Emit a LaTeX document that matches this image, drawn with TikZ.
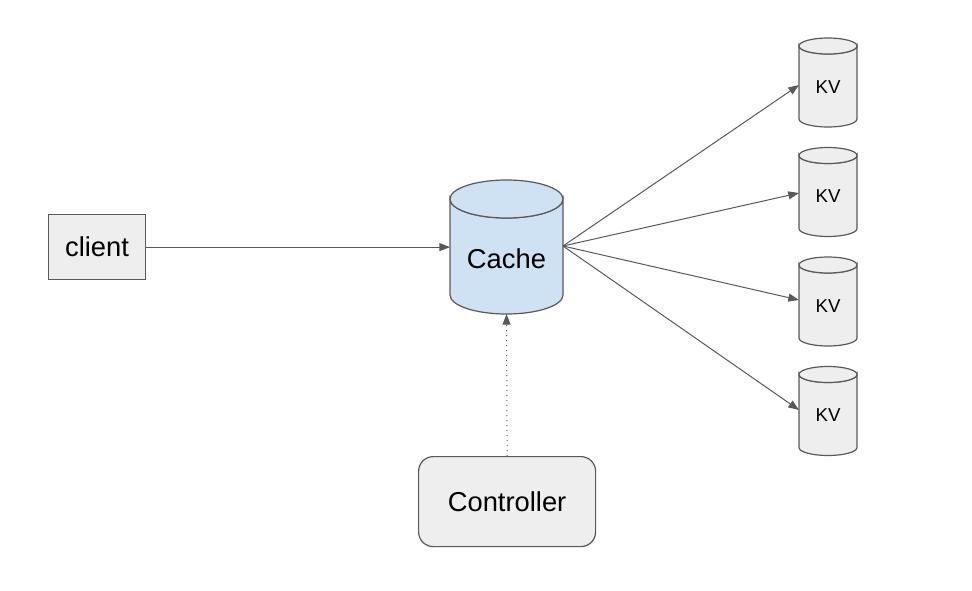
\documentclass[tikz,border=0pt]{standalone}
\usepackage{fontspec}
\setmainfont{Liberation Sans}
\usetikzlibrary{arrows.meta}
\definecolor{edge}{HTML}{595959}
\definecolor{boxfill}{HTML}{EEEEEE}
\definecolor{cachefill}{HTML}{CFE2F3}
\tikzset{
  shapeline/.style={draw=edge, line width=0.9pt},
  conn/.style={draw=edge, line width=0.75pt, -{Triangle[length=8pt,width=6pt]}},
  dotconn/.style={conn, dash pattern=on 0.75pt off 3pt},
  bigtxt/.style={font=\fontsize{20.5pt}{24pt}\selectfont, text=black},
  kvtxt/.style={font=\fontsize{14pt}{17pt}\selectfont, text=black},
}
% cylinder: #1 left x, #2 right x, #3 top y, #4 bottom y, #5 ry, #6 fill
\newcommand{\mycyl}[6]{%
  \pgfmathsetmacro{\cx}{(#1+#2)/2}%
  \pgfmathsetmacro{\rx}{(#2-#1)/2}%
  \pgfmathsetmacro{\ct}{#3+#5}%
  \pgfmathsetmacro{\cb}{#4-#5}%
  \path[shapeline, fill=#6] (#1,\ct) -- (#1,\cb) arc[start angle=180, end angle=0, x radius=\rx, y radius=#5] -- (#2,\ct) arc[start angle=0, end angle=180, x radius=\rx, y radius=#5] -- cycle;
  \path[shapeline, fill=#6] (\cx,\ct) ellipse[x radius=\rx, y radius=#5];
}
\begin{document}
\begin{tikzpicture}[x=0.75pt, y=-0.75pt]
\useasboundingbox (0,0) rectangle (972,590);
% client
\node[shapeline, fill=boxfill, bigtxt, minimum width=97*0.75pt, minimum height=65*0.75pt, inner sep=0pt, anchor=north west] (client) at (48,214) {client};
% cache
\mycyl{450}{563}{180}{314}{19}{cachefill}
\node[bigtxt, minimum width=113*0.75pt, minimum height=134*0.75pt, inner sep=0pt, anchor=north west] (cachebox) at (450,180) {};
\node[bigtxt] (cache) at (506.5,259) {Cache};
\coordinate (cacheR) at (563,246);
\coordinate (cacheB) at (506.5,314);
% KV cylinders
\foreach \i/\t in {1/38, 2/147.5, 3/257, 4/366.5} {
  \mycyl{799}{857}{\t}{\t+89}{8}{boxfill}
  \node[kvtxt] (kv\i) at (828,\t+49) {KV};
}
\coordinate (kvin1) at (799,85);
\coordinate (kvin2) at (799,193);
\coordinate (kvin3) at (799,300);
\coordinate (kvin4) at (799,410);
% controller
\node[shapeline, fill=boxfill, bigtxt, rounded corners=11pt, minimum width=177*0.75pt, minimum height=90*0.75pt, inner sep=0pt, anchor=north west] (ctrl) at (418,456) {Controller};
% connectors
\draw[conn] (client.east) -- (client.east -| cachebox.west);
\foreach \i in {1,2,3,4} { \draw[conn] (cacheR) -- (kvin\i); }
\draw[dotconn] (ctrl.north) -- (cacheB);
\end{tikzpicture}
\end{document}
